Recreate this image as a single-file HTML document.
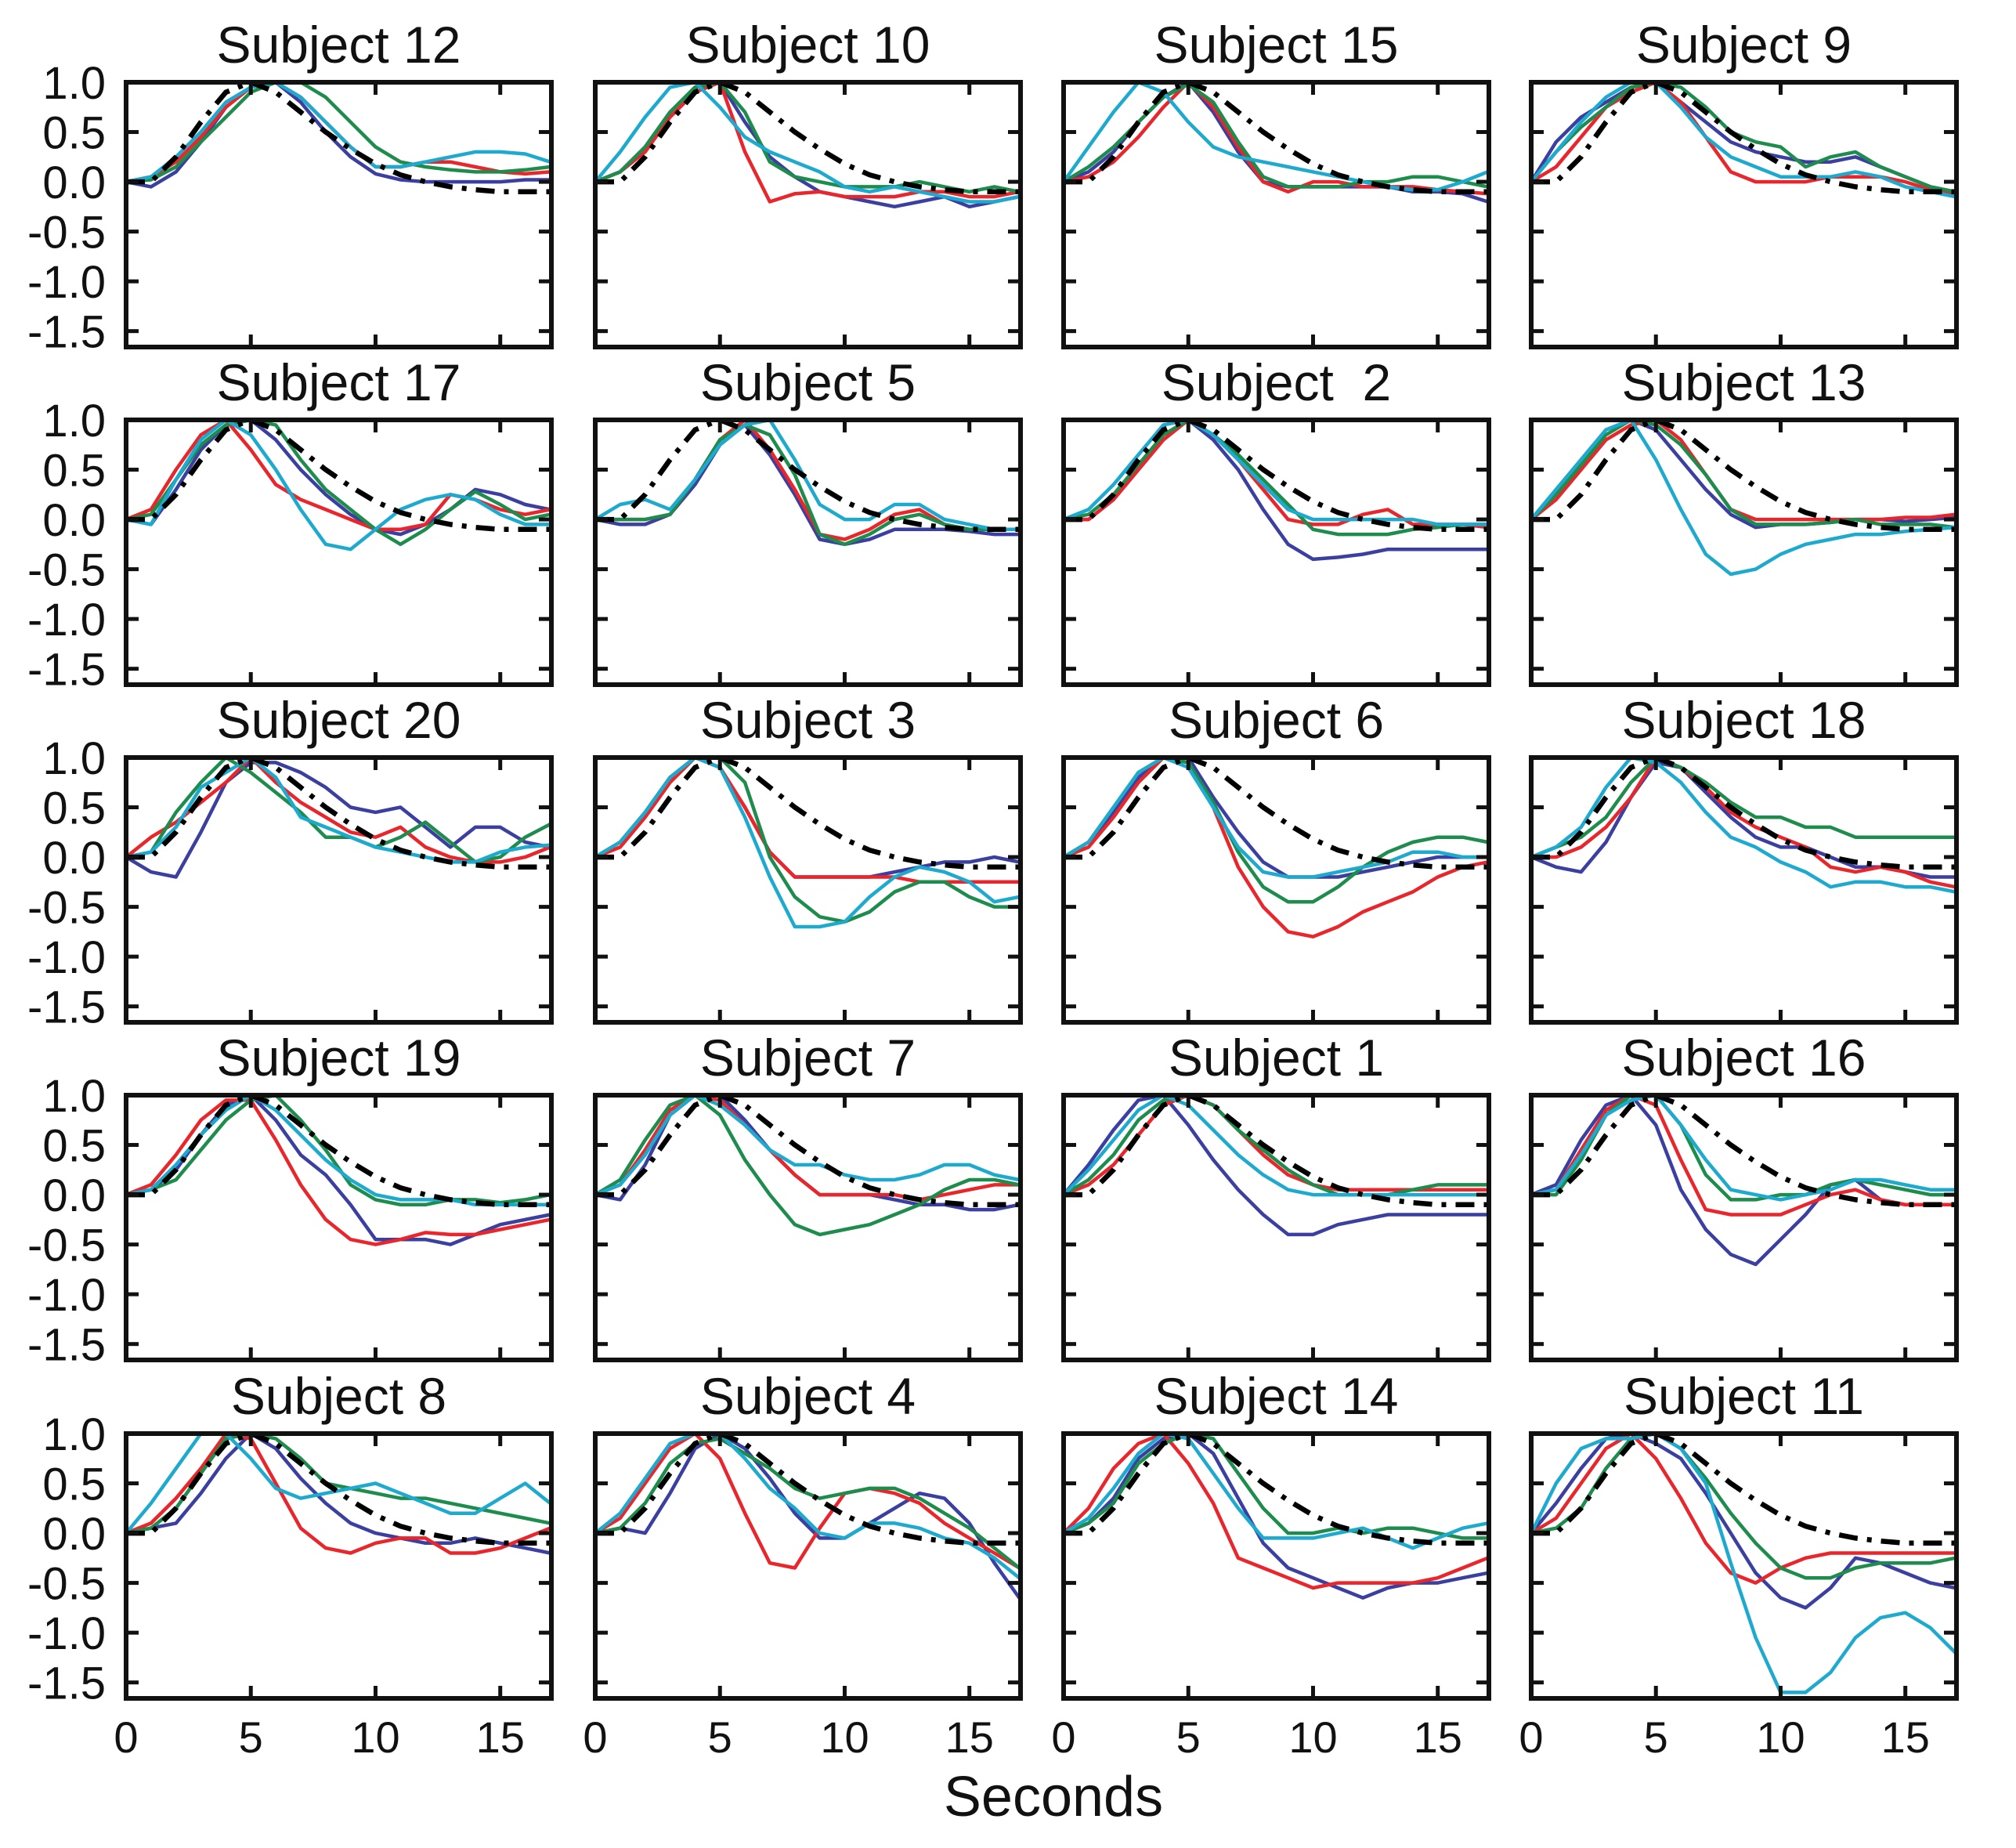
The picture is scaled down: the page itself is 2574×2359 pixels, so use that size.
<!DOCTYPE html>
<html><head><meta charset="utf-8"><title>Subject HRF panels</title>
<style>
html,body{margin:0;padding:0;background:#fff;}
svg{display:block;font-family:"Liberation Sans",Arial,sans-serif;}
</style></head>
<body>
<svg id="chart" width="2574" height="2359" viewBox="0 0 2574 2359" xmlns="http://www.w3.org/2000/svg">
<rect x="0" y="0" width="2574" height="2359" fill="#fff"/>
<text x="1345" y="2318" font-size="72" text-anchor="middle" fill="#111">Seconds</text>
</svg>
<script>
const times = [0,1,2,3,4,5,6,7,8,9,10,11,12,13,14,15,16,17];
const canonical = [0,0,0.25,0.6,0.9,1.0,0.9,0.7,0.5,0.33,0.18,0.07,0.0,-0.05,-0.08,-0.1,-0.1,-0.1];
const xTicks = [0,5,10,15];
const xTickLabels = ["0","5","10","15"];
const yTicks = [1.0,0.5,0.0,-0.5,-1.0,-1.5];
const yTickLabels = ["1.0","0.5","0.0","-0.5","-1.0","-1.5"];
const seriesNames = ["blue","red","green","cyan"];
const titles = ["Subject 12","Subject 10","Subject 15","Subject 9","Subject 17","Subject 5","Subject\u00a0\u00a02","Subject 13","Subject 20","Subject 3","Subject 6","Subject 18","Subject 19","Subject 7","Subject 1","Subject 16","Subject 8","Subject 4","Subject 14","Subject 11"];
const blueVals = [
[0,-0.05,0.1,0.4,0.75,0.95,1.0,0.8,0.5,0.25,0.08,0.02,0,0,0,0,0.02,0.02],
[0,0.1,0.35,0.7,0.95,1.0,0.6,0.25,0.05,-0.1,-0.15,-0.2,-0.25,-0.2,-0.15,-0.25,-0.2,-0.15],
[0,0.1,0.3,0.6,0.85,1.0,0.7,0.3,0,-0.05,-0.05,-0.05,-0.05,-0.05,-0.1,-0.1,-0.12,-0.2],
[0,0.4,0.65,0.8,0.95,1.0,0.8,0.6,0.4,0.3,0.25,0.2,0.2,0.25,0.15,0.05,-0.05,-0.1],
[0,-0.05,0.3,0.7,0.95,1.0,0.8,0.5,0.25,0.05,-0.1,-0.15,-0.05,0.1,0.3,0.25,0.15,0.1],
[0,-0.05,-0.05,0.05,0.35,0.75,0.95,0.65,0.25,-0.2,-0.25,-0.2,-0.1,-0.1,-0.1,-0.12,-0.15,-0.15],
[0,0,0.2,0.5,0.8,1.0,0.8,0.5,0.1,-0.25,-0.4,-0.38,-0.35,-0.3,-0.3,-0.3,-0.3,-0.3],
[0,0.3,0.6,0.9,1.0,0.9,0.6,0.3,0.05,-0.08,-0.05,-0.05,-0.03,0,0,-0.02,0.0,0.02],
[0,-0.15,-0.2,0.25,0.75,0.95,0.95,0.85,0.7,0.5,0.45,0.5,0.3,0.1,0.3,0.3,0.15,0.1],
[0,0.15,0.45,0.8,1.0,0.9,0.5,0.05,-0.2,-0.2,-0.2,-0.2,-0.15,-0.1,-0.05,-0.05,0,-0.05],
[0,0.15,0.45,0.8,1.0,1.0,0.6,0.25,-0.05,-0.2,-0.2,-0.2,-0.15,-0.1,-0.05,0,0,0],
[0,-0.1,-0.15,0.15,0.6,0.95,0.9,0.65,0.4,0.2,0.1,0.1,0.0,-0.1,-0.1,-0.15,-0.2,-0.2],
[0,0.05,0.25,0.6,0.9,1.0,0.75,0.4,0.2,-0.1,-0.45,-0.45,-0.45,-0.5,-0.4,-0.3,-0.25,-0.2],
[0,-0.05,0.3,0.8,1.0,1.0,0.75,0.45,0.2,0.0,0.0,0,-0.05,-0.1,-0.1,-0.15,-0.15,-0.1],
[0,0.3,0.65,0.95,1.0,0.7,0.35,0.05,-0.2,-0.4,-0.4,-0.3,-0.25,-0.2,-0.2,-0.2,-0.2,-0.2],
[0,0.1,0.55,0.9,1.0,0.7,0.05,-0.35,-0.6,-0.7,-0.45,-0.2,0.1,0.15,-0.05,-0.1,-0.1,-0.1],
[0,0.05,0.1,0.4,0.75,1.0,0.85,0.55,0.3,0.1,0.0,-0.05,-0.1,-0.1,-0.05,-0.1,-0.15,-0.2],
[0,0.05,0.0,0.4,0.85,1.0,0.85,0.55,0.2,-0.05,-0.05,0.1,0.25,0.4,0.35,0.1,-0.3,-0.65],
[0,0.1,0.35,0.75,0.95,1.0,0.8,0.35,-0.1,-0.35,-0.45,-0.55,-0.65,-0.55,-0.5,-0.5,-0.45,-0.4],
[0,0.3,0.65,0.95,1.0,0.9,0.75,0.4,0.0,-0.4,-0.65,-0.75,-0.55,-0.25,-0.3,-0.4,-0.5,-0.55]
];
const redVals = [
[0,0.05,0.2,0.45,0.75,0.95,1,0.85,0.6,0.35,0.15,0.15,0.2,0.2,0.15,0.1,0.08,0.1],
[0,0.1,0.3,0.65,0.9,1.0,0.3,-0.2,-0.12,-0.1,-0.15,-0.15,-0.15,-0.1,-0.1,-0.15,-0.15,-0.1],
[0,0.05,0.2,0.45,0.75,1.0,0.75,0.35,0,-0.1,0,0,-0.05,-0.05,-0.05,-0.08,-0.1,-0.12],
[0,0.15,0.45,0.75,0.9,1.0,0.8,0.45,0.1,0.0,0.0,0.0,0.05,0.05,0.05,0,-0.08,-0.12],
[0,0.1,0.5,0.85,1.0,0.7,0.35,0.2,0.1,0,-0.1,-0.1,-0.05,0.25,0.2,0.1,0.05,0.1],
[0,0,0,0.05,0.4,0.8,1.0,0.7,0.3,-0.15,-0.2,-0.1,0.05,0.1,-0.05,-0.1,-0.1,-0.1],
[0,0,0.2,0.5,0.8,1.0,0.85,0.6,0.3,0.0,-0.05,-0.05,0.05,0.1,-0.05,-0.05,-0.05,-0.08],
[0,0.2,0.5,0.8,0.95,1.0,0.8,0.45,0.1,0.0,0.0,0.0,0.0,0.0,0.0,0.02,0.02,0.05],
[0,0.2,0.35,0.55,0.75,1.0,0.75,0.55,0.4,0.25,0.2,0.3,0.1,0,-0.05,-0.05,0.0,0.1],
[0,0.1,0.4,0.75,1.0,0.9,0.5,0.05,-0.2,-0.2,-0.2,-0.2,-0.2,-0.25,-0.25,-0.25,-0.25,-0.25],
[0,0.1,0.4,0.75,1.0,0.95,0.5,-0.1,-0.5,-0.75,-0.8,-0.7,-0.55,-0.45,-0.35,-0.2,-0.1,-0.05],
[0,0,0.1,0.3,0.6,1.0,0.9,0.7,0.45,0.3,0.2,0.1,-0.1,-0.15,-0.1,-0.15,-0.25,-0.3],
[0,0.1,0.4,0.75,0.95,0.95,0.55,0.1,-0.25,-0.45,-0.5,-0.45,-0.38,-0.4,-0.4,-0.35,-0.3,-0.25],
[0,0.1,0.45,0.85,1.0,0.95,0.7,0.45,0.2,0.0,0.0,0.0,0.0,-0.05,0.0,0.05,0.1,0.1],
[0,0.1,0.3,0.6,0.9,1.0,0.9,0.65,0.4,0.2,0.1,0.05,0.05,0.05,0.05,0.05,0.05,0.05],
[0,0.05,0.45,0.85,1.0,0.9,0.35,-0.15,-0.2,-0.2,-0.2,-0.1,0.0,0.05,-0.05,-0.1,-0.1,-0.1],
[0,0.1,0.35,0.65,1.0,0.95,0.5,0.05,-0.15,-0.2,-0.1,-0.05,-0.05,-0.2,-0.2,-0.15,-0.05,0.05],
[0,0.15,0.5,0.85,1.0,0.75,0.2,-0.3,-0.35,0.05,0.4,0.45,0.4,0.3,0.1,-0.05,-0.2,-0.35],
[0,0.25,0.65,0.9,1.0,0.7,0.3,-0.25,-0.35,-0.45,-0.55,-0.5,-0.5,-0.5,-0.5,-0.45,-0.35,-0.25],
[0,0.15,0.5,0.85,1.0,0.75,0.35,-0.1,-0.4,-0.5,-0.35,-0.25,-0.2,-0.2,-0.2,-0.2,-0.2,-0.2]
];
const greenVals = [
[0,0.02,0.15,0.4,0.65,0.9,1.0,1.0,0.85,0.6,0.35,0.2,0.15,0.12,0.1,0.1,0.12,0.15],
[0,0.1,0.35,0.7,0.95,1.0,0.7,0.2,0.05,0,-0.05,-0.05,-0.05,0,-0.05,-0.1,-0.05,-0.1],
[0,0.15,0.35,0.6,0.85,0.98,0.8,0.4,0.05,-0.05,-0.05,-0.05,0,0,0.05,0.05,0,-0.05],
[0,0.3,0.55,0.75,0.95,1.0,0.95,0.75,0.5,0.4,0.35,0.15,0.25,0.3,0.15,0.05,-0.05,-0.1],
[0,0.05,0.4,0.75,0.95,1.0,0.95,0.6,0.3,0.1,-0.1,-0.25,-0.1,0.1,0.28,0.15,0.0,0.05],
[0,0,0,0.05,0.4,0.8,0.95,0.85,0.45,-0.15,-0.25,-0.15,0.0,0.05,-0.05,-0.1,-0.1,-0.1],
[0,0.05,0.25,0.55,0.85,1.0,0.85,0.65,0.4,0.15,-0.1,-0.15,-0.15,-0.15,-0.1,-0.08,-0.05,-0.05],
[0,0.25,0.55,0.85,1.0,0.95,0.75,0.45,0.1,-0.05,-0.05,-0.05,-0.03,0,-0.05,-0.05,-0.05,-0.08],
[0,0.05,0.45,0.75,1.0,0.85,0.65,0.45,0.2,0.2,0.1,0.2,0.35,0.15,-0.05,0,0.2,0.33],
[0,0.15,0.45,0.8,1.0,1.0,0.75,0.0,-0.4,-0.6,-0.65,-0.55,-0.35,-0.25,-0.25,-0.4,-0.5,-0.5],
[0,0.15,0.5,0.85,1.0,0.95,0.55,0.05,-0.3,-0.45,-0.45,-0.3,-0.1,0.05,0.15,0.2,0.2,0.15],
[0,0.1,0.2,0.4,0.75,1.0,0.9,0.75,0.55,0.4,0.4,0.3,0.3,0.2,0.2,0.2,0.2,0.2],
[0,0.05,0.15,0.45,0.75,0.95,1.0,0.75,0.45,0.1,-0.05,-0.1,-0.1,-0.05,-0.05,-0.08,-0.05,0.0],
[0,0.15,0.55,0.9,1.0,0.8,0.35,0.0,-0.3,-0.4,-0.35,-0.3,-0.2,-0.1,0.05,0.15,0.15,0.1],
[0,0.15,0.4,0.75,0.95,1.0,0.9,0.65,0.45,0.25,0.1,0.0,0.0,0.0,0.05,0.1,0.1,0.1],
[0,0.0,0.35,0.8,1.0,1.0,0.7,0.2,-0.05,-0.05,0.0,0.0,0.1,0.15,0.1,0.05,0.0,0.0],
[0,0.05,0.25,0.6,0.95,1.0,0.95,0.75,0.5,0.45,0.4,0.35,0.35,0.3,0.25,0.2,0.15,0.1],
[0,0.05,0.3,0.7,0.9,0.95,0.8,0.65,0.45,0.35,0.4,0.45,0.45,0.35,0.2,0.05,-0.15,-0.35],
[0,0.1,0.3,0.7,0.9,1.0,0.95,0.6,0.25,0.0,0.0,0.05,0.0,0.05,0.05,0.0,-0.05,-0.05],
[0,0.05,0.25,0.65,0.95,1.0,0.85,0.55,0.2,-0.1,-0.35,-0.45,-0.45,-0.35,-0.3,-0.3,-0.3,-0.25]
];
const cyanVals = [
[0,0.05,0.25,0.5,0.8,0.95,1.0,0.85,0.6,0.35,0.15,0.15,0.2,0.25,0.3,0.3,0.28,0.2],
[0,0.3,0.65,0.95,1.0,0.75,0.45,0.3,0.2,0.1,-0.05,-0.1,-0.05,-0.1,-0.15,-0.2,-0.2,-0.15],
[0,0.35,0.7,1.0,0.9,0.6,0.35,0.25,0.2,0.15,0.1,0.05,0,-0.05,-0.08,-0.08,0,0.1],
[0,0.3,0.6,0.85,1.0,1.0,0.75,0.45,0.25,0.15,0.05,0.05,0.05,0.1,0.05,-0.05,-0.1,-0.15],
[0,-0.05,0.4,0.8,1.0,0.85,0.5,0.1,-0.25,-0.3,-0.1,0.1,0.2,0.25,0.2,0.05,-0.05,-0.05],
[0,0.15,0.2,0.1,0.4,0.75,0.95,1.0,0.6,0.15,0.0,0.0,0.15,0.15,0.0,-0.05,-0.1,-0.1],
[0,0.1,0.35,0.65,0.95,1.0,0.85,0.6,0.35,0.1,0.0,0.0,0.0,0,0,-0.05,-0.05,-0.05],
[0,0.3,0.6,0.9,1.0,0.6,0.1,-0.35,-0.55,-0.5,-0.35,-0.25,-0.2,-0.15,-0.15,-0.12,-0.1,-0.08],
[0,0.05,0.3,0.7,0.85,1.0,0.8,0.4,0.3,0.2,0.1,0.05,0.0,-0.05,-0.05,0.05,0.1,0.12],
[0,0.15,0.45,0.8,1.0,0.9,0.4,-0.2,-0.7,-0.7,-0.65,-0.4,-0.2,-0.1,-0.15,-0.25,-0.45,-0.4],
[0,0.15,0.5,0.85,1.0,0.9,0.5,0.1,-0.15,-0.2,-0.2,-0.15,-0.1,-0.05,0.05,0.05,0.0,0.0],
[0,0.1,0.3,0.7,1.0,0.95,0.75,0.45,0.2,0.1,-0.05,-0.15,-0.3,-0.25,-0.25,-0.3,-0.3,-0.35],
[0,0.05,0.3,0.6,0.85,1.0,0.85,0.6,0.35,0.15,0.0,-0.05,-0.05,-0.05,-0.1,-0.1,-0.1,-0.1],
[0,0.1,0.4,0.8,1.0,0.9,0.7,0.45,0.3,0.3,0.2,0.15,0.15,0.2,0.3,0.3,0.2,0.15],
[0,0.25,0.55,0.85,1.0,0.9,0.65,0.4,0.2,0.05,0.0,0.0,0.0,0.0,0.0,0.0,0.0,0.0],
[0,0.05,0.4,0.8,0.95,1.0,0.7,0.35,0.05,0.0,-0.05,0.0,0.05,0.15,0.15,0.1,0.05,0.05],
[0,0.3,0.65,1.0,1.0,0.75,0.45,0.35,0.4,0.45,0.5,0.4,0.3,0.2,0.2,0.35,0.5,0.3],
[0,0.2,0.55,0.9,1.0,1.0,0.75,0.45,0.25,0.0,-0.05,0.1,0.1,0.05,-0.05,-0.1,-0.25,-0.45],
[0,0.15,0.45,0.8,1.0,0.95,0.6,0.25,-0.05,-0.05,-0.05,0.0,0.05,-0.05,-0.15,-0.05,0.05,0.1],
[0,0.5,0.85,0.95,0.95,1.0,0.85,0.5,-0.3,-1.05,-1.6,-1.6,-1.4,-1.05,-0.85,-0.8,-0.95,-1.2]
];
const allSeries = [blueVals, redVals, greenVals, cyanVals];
const colors = ["#3b3fa0","#e8262c","#1d8c4c","#1eaace"];

const NS = "http://www.w3.org/2000/svg";
const svg = document.getElementById("chart");
const colLeft = [161, 760, 1358, 1955];
const rowTop = [105, 536, 967, 1398, 1830];
const PW = 543, PH = 338;
const XMAX = 17.05, YMAX = 1.0, YMIN = -1.66;

function mk(tag, attrs){ const e=document.createElementNS(NS,tag); for(const k in attrs) e.setAttribute(k,attrs[k]); return e; }

for (let p = 0; p < 20; p++) {
  const r = Math.floor(p/4), c = p%4;
  const L = colLeft[c], T = rowTop[r];
  const xS = v => L + v/XMAX*PW;
  const yS = v => T + (YMAX - v)/(YMAX-YMIN)*PH;
  const g = mk("g", {});
  
  
  svg.appendChild(g);

  const clipId = "clip"+p;
  const cp = mk("clipPath",{id:clipId});
  cp.appendChild(mk("rect",{x:L,y:T-4,width:PW,height:PH+8}));
  g.appendChild(cp);

  const title = mk("text",{x:L+PW/2, y:T-25, "font-size":66, "text-anchor":"middle", fill:"#111"});
  title.textContent = titles[p];
  
  
  g.appendChild(title);

  const lines = mk("g",{"clip-path":"url(#"+clipId+")"});
  g.appendChild(lines);
  for (let s = 0; s < 4; s++) {
    const vals = allSeries[s][p];
    const pts = times.map((t,i)=> xS(t).toFixed(1)+","+yS(vals[i]).toFixed(1)).join(" ");
    const pl = mk("polyline",{points:pts, fill:"none", stroke:colors[s], "stroke-width":4.5, "stroke-linejoin":"round"});
    
    
    lines.appendChild(pl);
  }
  const cpts = times.map((t,i)=> xS(t).toFixed(1)+","+yS(canonical[i]).toFixed(1)).join(" ");
  const cl = mk("polyline",{points:cpts, fill:"none", stroke:"#000", "stroke-width":6.5, "stroke-dasharray":"24 12 6 12"});
  
  
  lines.appendChild(cl);

  const frame = mk("rect",{x:L, y:T, width:PW, height:PH, fill:"none", stroke:"#111", "stroke-width":6});
  
  
  g.appendChild(frame);

  xTicks.forEach((t,i)=>{
    if (t>0) {
      g.appendChild(mk("line",{x1:xS(t),x2:xS(t),y1:T+PH,y2:T+PH-16,stroke:"#111","stroke-width":5}));
      g.appendChild(mk("line",{x1:xS(t),x2:xS(t),y1:T,y2:T+16,stroke:"#111","stroke-width":5}));
    }
    if (r===4) {
      const tl = mk("text",{x:xS(t), y:2237, "font-size":56, "text-anchor":"middle", fill:"#111"});
      tl.textContent = xTickLabels[i];
      
      
      g.appendChild(tl);
    }
  });
  yTicks.forEach((v,i)=>{
    if (v<1) {
      g.appendChild(mk("line",{x1:L,x2:L+16,y1:yS(v),y2:yS(v),stroke:"#111","stroke-width":5}));
      g.appendChild(mk("line",{x1:L+PW,x2:L+PW-16,y1:yS(v),y2:yS(v),stroke:"#111","stroke-width":5}));
    }
    if (c===0) {
      const yl = mk("text",{x:135, y:yS(v)+21, "font-size":58, "text-anchor":"end", fill:"#111"});
      yl.textContent = yTickLabels[i];
      
      
      g.appendChild(yl);
    }
  });
}
</script>
</body></html>
